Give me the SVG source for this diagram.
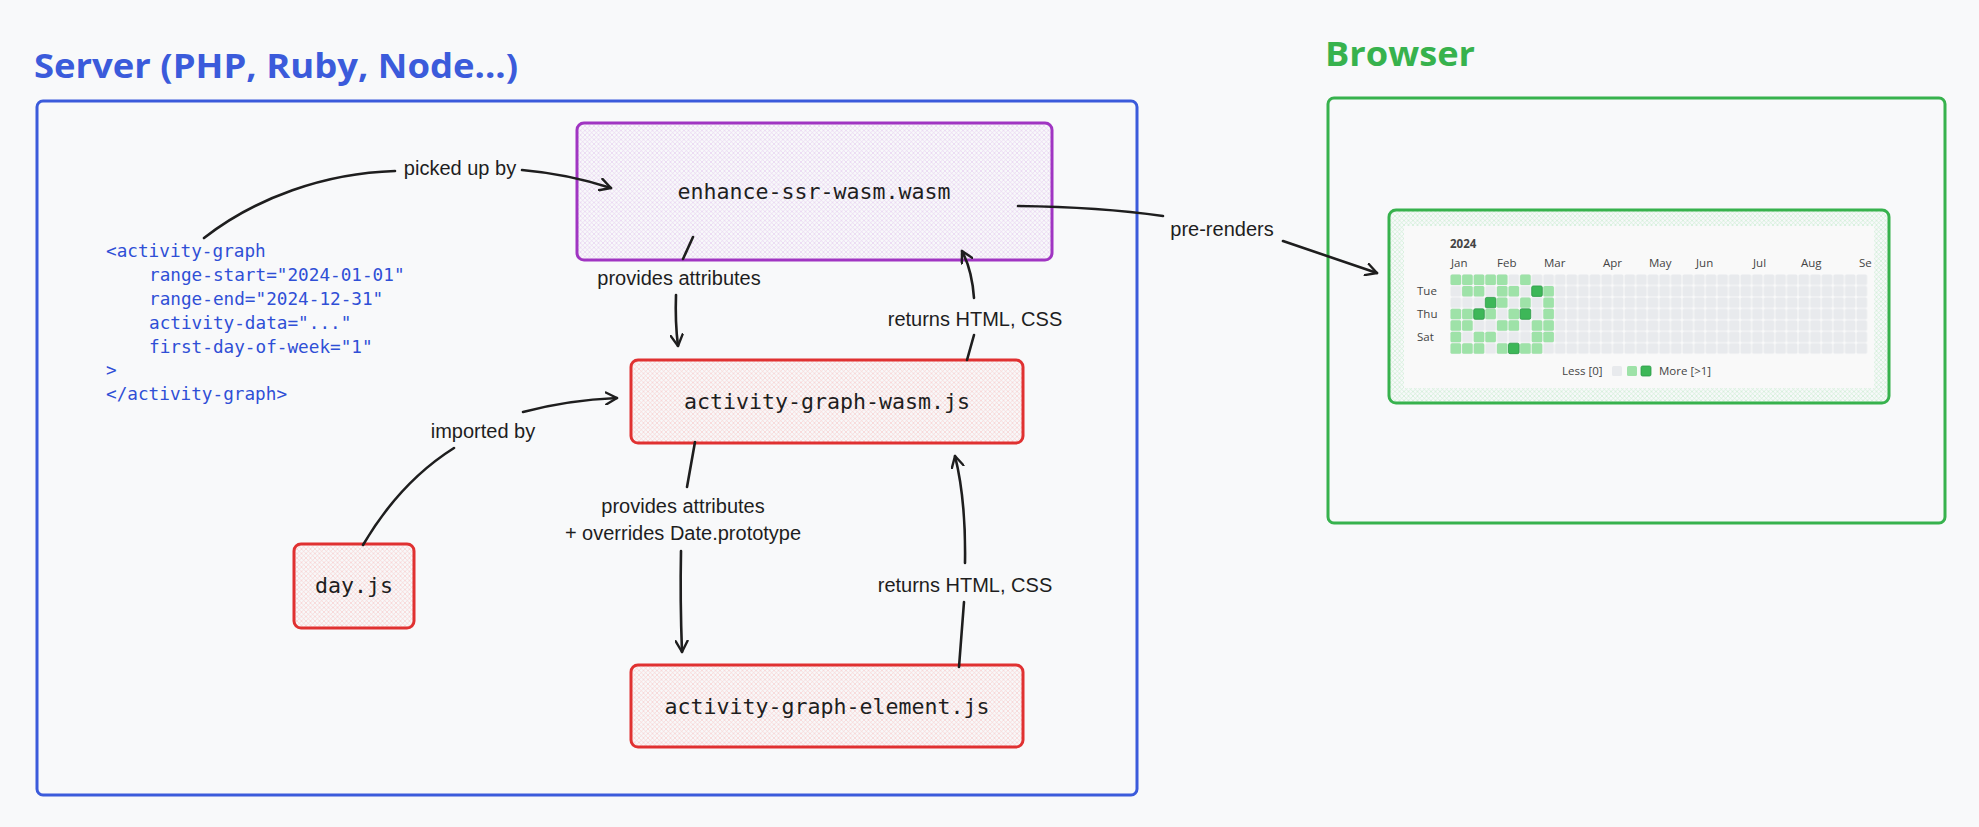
<svg xmlns="http://www.w3.org/2000/svg" xmlns:xlink="http://www.w3.org/1999/xlink" width="1979" height="827" viewBox="0 0 1979 827">
<style>
.lbl{font-family:"Liberation Sans",Arial,sans-serif;font-size:20px;fill:#1e1e1e;text-anchor:middle}
.mono{font-family:"DejaVu Sans Mono","Liberation Mono",monospace;font-size:21.6px;fill:#1e1e1e;text-anchor:middle}
.code{font-family:"DejaVu Sans Mono","Liberation Mono",monospace;font-size:17.7px;fill:#2f4fd6}
.title{font-family:"Open Sans","Noto Sans",sans-serif;font-weight:700;font-size:34px}
.conn{fill:none;stroke:#1e1e1e;stroke-width:2.6;stroke-linecap:round}
.card{font-family:"Open Sans","Noto Sans",sans-serif;font-size:11.5px;fill:#444}
.lt{fill:#9ee2a8}
.dk{fill:#3db758;stroke:#2c9a47;stroke-width:0.8}
</style>
<defs>
<pattern id="hP" patternUnits="userSpaceOnUse" width="4.5" height="4.5"><path d="M0,0L4.5,4.5M4.5,0L0,4.5" stroke="#e4c8ef" stroke-width="0.6"/></pattern>
<pattern id="hR" patternUnits="userSpaceOnUse" width="4.5" height="4.5"><path d="M0,0L4.5,4.5M4.5,0L0,4.5" stroke="#f7c6c6" stroke-width="0.6"/></pattern>
<pattern id="hG" patternUnits="userSpaceOnUse" width="4.5" height="4.5"><path d="M0,0L4.5,4.5M4.5,0L0,4.5" stroke="#c4ebcb" stroke-width="0.6"/></pattern>
<pattern id="grid" patternUnits="userSpaceOnUse" x="1450" y="274" width="11.6" height="11.45"><rect x="0.5" y="0.5" width="10.6" height="10.45" rx="1.5" fill="#e8eaed"/></pattern>
<rect id="cL" width="10.6" height="10.45" rx="1.5" class="lt"/>
<rect id="cD" width="10.6" height="10.45" rx="1.5" class="dk"/>
<marker id="ah" viewBox="0 0 14 14" refX="12" refY="7" markerWidth="14" markerHeight="14" markerUnits="userSpaceOnUse" orient="auto"><path d="M1,1L12,7L1,13" fill="none" stroke="#1e1e1e" stroke-width="2.4" stroke-linecap="round" stroke-linejoin="round"/></marker>
</defs>
<rect width="1979" height="827" fill="#f8f9fa"/>

<g id="server">
<text class="title" x="34" y="78" fill="#3b5bdb" textLength="484" lengthAdjust="spacingAndGlyphs">Server (PHP, Ruby, Node...)</text>
<rect x="37" y="101" width="1100" height="694" rx="6" fill="none" stroke="#3b5bdb" stroke-width="3"/>
</g>

<g id="browser">
<text class="title" x="1325" y="66" fill="#37b24d" textLength="150" lengthAdjust="spacingAndGlyphs">Browser</text>
<rect x="1328" y="98" width="617" height="425" rx="6" fill="none" stroke="#37b24d" stroke-width="3"/>
</g>

<g id="code">
<text class="code" x="106" y="257">&lt;activity-graph</text>
<text class="code" x="149" y="281">range-start="2024-01-01"</text>
<text class="code" x="149" y="305">range-end="2024-12-31"</text>
<text class="code" x="149" y="329">activity-data="..."</text>
<text class="code" x="149" y="353">first-day-of-week="1"</text>
<text class="code" x="106" y="376">&gt;</text>
<text class="code" x="106" y="400">&lt;/activity-graph&gt;</text>
</g>

<g id="enhance-ssr-wasm">
<rect x="577" y="123" width="475" height="137" rx="7" fill="#f8f9fa"/>
<rect x="577" y="123" width="475" height="137" rx="7" fill="url(#hP)" stroke="#a035c2" stroke-width="3"/>
<text class="mono" x="814" y="199">enhance-ssr-wasm.wasm</text>
</g>

<g id="activity-graph-wasm">
<rect x="631" y="360" width="392" height="83" rx="7" fill="#f8f9fa"/>
<rect x="631" y="360" width="392" height="83" rx="7" fill="url(#hR)" stroke="#e03131" stroke-width="3"/>
<text class="mono" x="827" y="409">activity-graph-wasm.js</text>
</g>

<g id="activity-graph-element">
<rect x="631" y="665" width="392" height="82" rx="7" fill="#f8f9fa"/>
<rect x="631" y="665" width="392" height="82" rx="7" fill="url(#hR)" stroke="#e03131" stroke-width="3"/>
<text class="mono" x="827" y="714">activity-graph-element.js</text>
</g>

<g id="dayjs">
<rect x="294" y="544" width="120" height="84" rx="7" fill="#f8f9fa"/>
<rect x="294" y="544" width="120" height="84" rx="7" fill="url(#hR)" stroke="#e03131" stroke-width="3"/>
<text class="mono" x="354" y="593">day.js</text>
</g>

<g id="activity-graph-render">
<rect x="1389" y="210" width="500" height="193" rx="7" fill="#f8f9fa"/>
<rect x="1389" y="210" width="500" height="193" rx="7" fill="url(#hG)" stroke="#37b24d" stroke-width="3"/>
<rect x="1404" y="226" width="470" height="162" fill="#f9f9f9"/>
<text class="card" x="1450" y="248" font-weight="700" fill="#222">2024</text>
<text class="card" x="1451" y="267">Jan</text>
<text class="card" x="1497" y="267">Feb</text>
<text class="card" x="1544" y="267">Mar</text>
<text class="card" x="1603" y="267">Apr</text>
<text class="card" x="1649" y="267">May</text>
<text class="card" x="1696" y="267">Jun</text>
<text class="card" x="1753" y="267">Jul</text>
<text class="card" x="1801" y="267">Aug</text>
<text class="card" x="1859" y="267">Se</text>
<text class="card" x="1417" y="295">Tue</text>
<text class="card" x="1417" y="318">Thu</text>
<text class="card" x="1417" y="341">Sat</text>
<rect x="1450" y="274" width="417.6" height="80.15" fill="url(#grid)"/>
<g transform="translate(1450.5,274.5)">
<use xlink:href="#cL" x="0" y="0"/><use xlink:href="#cL" x="11.6" y="0"/><use xlink:href="#cL" x="23.2" y="0"/><use xlink:href="#cL" x="34.8" y="0"/><use xlink:href="#cL" x="46.4" y="0"/><use xlink:href="#cL" x="69.6" y="0"/>
<use xlink:href="#cL" x="11.6" y="11.45"/><use xlink:href="#cL" x="23.2" y="11.45"/><use xlink:href="#cL" x="46.4" y="11.45"/><use xlink:href="#cL" x="58" y="11.45"/><use xlink:href="#cD" x="81.2" y="11.45"/><use xlink:href="#cL" x="92.8" y="11.45"/>
<use xlink:href="#cD" x="34.8" y="22.9"/><use xlink:href="#cL" x="46.4" y="22.9"/><use xlink:href="#cL" x="69.6" y="22.9"/><use xlink:href="#cL" x="92.8" y="22.9"/>
<use xlink:href="#cL" x="0" y="34.35"/><use xlink:href="#cL" x="11.6" y="34.35"/><use xlink:href="#cD" x="23.2" y="34.35"/><use xlink:href="#cL" x="34.8" y="34.35"/><use xlink:href="#cL" x="58" y="34.35"/><use xlink:href="#cD" x="69.6" y="34.35"/><use xlink:href="#cL" x="92.8" y="34.35"/>
<use xlink:href="#cL" x="0" y="45.8"/><use xlink:href="#cL" x="11.6" y="45.8"/><use xlink:href="#cL" x="46.4" y="45.8"/><use xlink:href="#cL" x="58" y="45.8"/><use xlink:href="#cL" x="81.2" y="45.8"/><use xlink:href="#cL" x="92.8" y="45.8"/>
<use xlink:href="#cL" x="0" y="57.25"/><use xlink:href="#cL" x="23.2" y="57.25"/><use xlink:href="#cL" x="34.8" y="57.25"/><use xlink:href="#cL" x="81.2" y="57.25"/><use xlink:href="#cL" x="92.8" y="57.25"/>
<use xlink:href="#cL" x="0" y="68.7"/><use xlink:href="#cL" x="11.6" y="68.7"/><use xlink:href="#cL" x="23.2" y="68.7"/><use xlink:href="#cL" x="46.4" y="68.7"/><use xlink:href="#cD" x="58" y="68.7"/><use xlink:href="#cL" x="69.6" y="68.7"/><use xlink:href="#cL" x="81.2" y="68.7"/>
</g>
<text class="card" x="1562" y="375">Less [0]</text>
<rect x="1612" y="366" width="10" height="10" rx="1.5" fill="#e8eaed"/>
<rect x="1627" y="366" width="10" height="10" rx="1.5" class="lt"/>
<rect x="1641" y="366" width="10" height="10" rx="1.5" class="dk"/>
<text class="card" x="1659" y="375">More [&gt;1]</text>
</g>

<g id="connectors">
<path class="conn" d="M204,238 C255,198 325,173 395,171"/>
<path class="conn" d="M522,170 Q568,174 611,188" marker-end="url(#ah)"/>
<text class="lbl" x="460" y="175">picked up by</text>

<path class="conn" d="M693,237 L683,259"/>
<path class="conn" d="M676,295 Q675,322 678,346" marker-end="url(#ah)"/>
<text class="lbl" x="679" y="285">provides attributes</text>

<path class="conn" d="M967,360 L974,335"/>
<path class="conn" d="M974,298 Q972,270 962,251" marker-end="url(#ah)"/>
<text class="lbl" x="975" y="326">returns HTML, CSS</text>

<path class="conn" d="M1018,206 Q1100,207 1163,216"/>
<path class="conn" d="M1283,241 L1377,273" marker-end="url(#ah)"/>
<text class="lbl" x="1222" y="236">pre-renders</text>

<path class="conn" d="M363,545 Q400,482 454,448"/>
<path class="conn" d="M523,412 Q568,400 617,398" marker-end="url(#ah)"/>
<text class="lbl" x="483" y="438">imported by</text>

<path class="conn" d="M695,442 L687,487"/>
<path class="conn" d="M681,551 Q680,600 682,652" marker-end="url(#ah)"/>
<text class="lbl" x="683" y="513">provides attributes</text>
<text class="lbl" x="683" y="540">+ overrides Date.prototype</text>

<path class="conn" d="M959,667 L964,602"/>
<path class="conn" d="M965,563 Q966,500 955,456" marker-end="url(#ah)"/>
<text class="lbl" x="965" y="592">returns HTML, CSS</text>
</g>
</svg>
